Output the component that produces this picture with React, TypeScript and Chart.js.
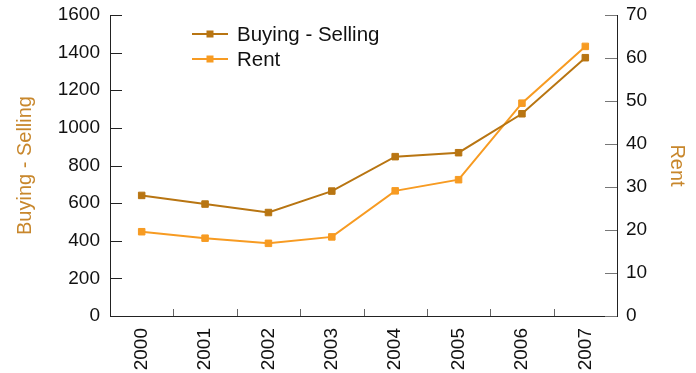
import React, { useEffect, useRef } from "react";
import { Chart, registerables } from "chart.js";

Chart.register(...registerables);

const years = ["2000", "2001", "2002", "2003", "2004", "2005", "2006", "2007"];
const buyingSelling = [641, 595, 550, 664, 847, 868, 1075, 1373];
const rent = [19.6, 18.1, 16.9, 18.4, 29.1, 31.7, 49.5, 62.7];
const leftMax = 1600;
const leftStep = 200;
const rightMax = 70;
const rightStep = 10;

const COLOR_BS = "#b87512";
const COLOR_RENT = "#f79b22";
const TITLE_COLOR = "#c8872c";
const FONT = "'Liberation Sans', Arial, Helvetica, sans-serif";

const innerTicks = {
  id: "innerTicks",
  beforeDatasetsDraw(chart: any) {
    const { ctx, chartArea } = chart;
    const y = chart.scales.y;
    const y1 = chart.scales.y1;
    const x = chart.scales.x;
    ctx.save();
    ctx.lineWidth = 1;
    ctx.strokeStyle = "#222";
    y.ticks.forEach((t: any) => {
      const py = Math.round(y.getPixelForValue(t.value)) + 0.5;
      ctx.beginPath();
      ctx.moveTo(chartArea.left, py);
      ctx.lineTo(chartArea.left + 12, py);
      ctx.stroke();
    });
    ctx.strokeStyle = "#777";
    y1.ticks.forEach((t: any) => {
      const py = Math.round(y1.getPixelForValue(t.value)) + 0.5;
      ctx.beginPath();
      ctx.moveTo(chartArea.right - 12, py);
      ctx.lineTo(chartArea.right, py);
      ctx.stroke();
    });
    ctx.strokeStyle = "#666";
    const n = x.ticks.length;
    for (let i = 1; i < n; i++) {
      const px = Math.round((x.getPixelForValue(i - 1) + x.getPixelForValue(i)) / 2) + 0.5;
      ctx.beginPath();
      ctx.moveTo(px, chartArea.bottom);
      ctx.lineTo(px, chartArea.bottom - 7);
      ctx.stroke();
    }
    ctx.restore();
  },
};

const insideLegend = {
  id: "insideLegend",
  afterDraw(chart: any) {
    const { ctx, chartArea } = chart;
    ctx.save();
    const x0 = chartArea.left + 82;
    chart.data.datasets.forEach((ds: any, i: number) => {
      const cy = chartArea.top + 19 + i * 25;
      ctx.strokeStyle = ds.borderColor;
      ctx.lineWidth = 2;
      ctx.beginPath();
      ctx.moveTo(x0, cy);
      ctx.lineTo(x0 + 36, cy);
      ctx.stroke();
      ctx.fillStyle = ds.backgroundColor;
      ctx.fillRect(x0 + 18 - 3.5, cy - 3.5, 7, 7);
      ctx.fillStyle = "#111";
      ctx.font = `20.5px ${FONT}`;
      ctx.textBaseline = "middle";
      ctx.textAlign = "left";
      ctx.fillText(ds.label, x0 + 45, cy + 1);
    });
    ctx.restore();
  },
};

const plainLabel = (v: any) => String(v);

export default function App() {
  const ref = useRef<HTMLCanvasElement | null>(null);
  useEffect(() => {
    if (!ref.current) return;
    const chart = new Chart(ref.current, {
      type: "line",
      data: {
        labels: years,
        datasets: [
          {
            label: "Buying - Selling",
            data: buyingSelling,
            yAxisID: "y",
            borderColor: COLOR_BS,
            backgroundColor: COLOR_BS,
            pointBackgroundColor: COLOR_BS,
            pointBorderColor: COLOR_BS,
            pointStyle: "rect",
            pointRadius: 4.6,
            pointBorderWidth: 1,
            borderWidth: 2,
            tension: 0,
          },
          {
            label: "Rent",
            data: rent,
            yAxisID: "y1",
            borderColor: COLOR_RENT,
            backgroundColor: COLOR_RENT,
            pointBackgroundColor: COLOR_RENT,
            pointBorderColor: COLOR_RENT,
            pointStyle: "rect",
            pointRadius: 4.6,
            pointBorderWidth: 1,
            borderWidth: 2,
            tension: 0,
          },
        ],
      },
      options: {
        animation: false,
        responsive: true,
        maintainAspectRatio: false,
        layout: { padding: { top: 15, left: 0, right: 0, bottom: 0 } },
        plugins: {
          legend: { display: false },
          tooltip: { enabled: false },
        },
        scales: {
          x: {
            type: "category",
            offset: true,
            grid: { display: false, drawTicks: false },
            border: { display: true, color: "#222", width: 1 },
            ticks: {
              autoSkip: false,
              maxRotation: 90,
              minRotation: 90,
              padding: 12,
              color: "#111",
              font: { family: FONT, size: 19 },
            },
            afterFit: (s: any) => {
              s.height = 57;
              s.paddingLeft = 0;
              s.paddingRight = 0;
            },
          },
          y: {
            position: "left",
            min: 0,
            max: leftMax,
            grid: { display: false, drawTicks: false },
            border: { display: true, color: "#222", width: 1 },
            ticks: {
              stepSize: leftStep,
              padding: 10,
              color: "#111",
              font: { family: FONT, size: 19 },
              callback: plainLabel,
            },
            title: {
              display: true,
              text: "Buying - Selling",
              color: TITLE_COLOR,
              font: { family: FONT, size: 20 },
              padding: { top: 13, bottom: 0 },
            },
            afterFit: (s: any) => {
              s.width = 110;
              s.paddingTop = 0;
              s.paddingBottom = 0;
            },
          },
          y1: {
            position: "right",
            min: 0,
            max: rightMax,
            grid: { display: false, drawTicks: false },
            border: { display: true, color: "#222", width: 1 },
            ticks: {
              stepSize: rightStep,
              padding: 9,
              color: "#111",
              font: { family: FONT, size: 19 },
              callback: plainLabel,
            },
            title: {
              display: true,
              text: "Rent",
              color: TITLE_COLOR,
              font: { family: FONT, size: 20 },
              padding: { top: 7, bottom: 0 },
            },
            afterFit: (s: any) => {
              s.width = 79;
              s.paddingTop = 0;
              s.paddingBottom = 0;
            },
          },
        },
      },
      plugins: [innerTicks, insideLegend],
    });
    return () => chart.destroy();
  }, []);
  return (
    <div style={{ position: "absolute", left: 0, top: 0, width: 696, height: 373 }}>
      <canvas ref={ref} />
    </div>
  );
}
